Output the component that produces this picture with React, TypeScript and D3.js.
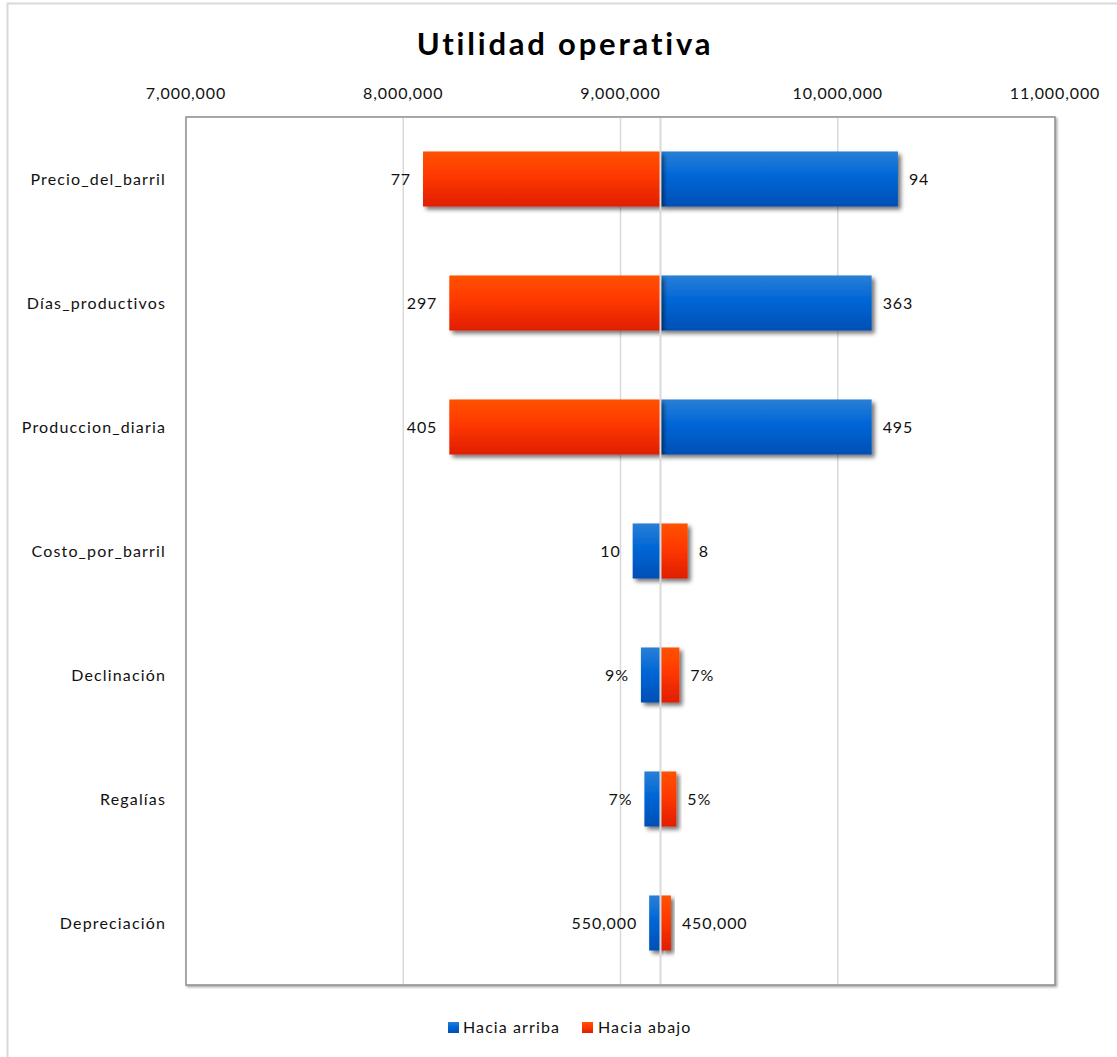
import React from "react";
import * as d3 from "d3";

const categories = [
  "Precio_del_barril",
  "Días_productivos",
  "Produccion_diaria",
  "Costo_por_barril",
  "Declinación",
  "Regalías",
  "Depreciación",
];
const baseValue = 9184000;
const upValues = [10277000, 10156000, 10156000, 9056000, 9094000, 9110000, 9132000];
const downValues = [8091000, 8212000, 8212000, 9309000, 9271000, 9257000, 9232000];
const upLabels = ["94", "363", "495", "10", "9%", "7%", "550,000"];
const downLabels = ["77", "297", "405", "8", "7%", "5%", "450,000"];
const tickValues = [7000000, 8000000, 9000000, 10000000, 11000000];
const seriesNames = ["Hacia arriba", "Hacia abajo"];

const W = 1117;
const H = 1057;
const plot = { left: 186, right: 1055, top: 117, bottom: 985 };
const FONT = "Lato, 'Open Sans', sans-serif";

export default function App() {
  const x = d3.scaleLinear().domain([7000000, 11000000]).range([plot.left, plot.right]);
  const y = d3
    .scaleBand<string>()
    .domain(categories)
    .range([plot.top, plot.bottom])
    .paddingInner(0.556)
    .paddingOuter(0.278);
  const fmt = d3.format(",");
  const bw = y.bandwidth();

  const bars: any[] = [];
  categories.forEach((c, i) => {
    const yc = y(c) as number;
    [
      { v: upValues[i], lab: upLabels[i], fill: "url(#gBlue)", key: "u" },
      { v: downValues[i], lab: downLabels[i], fill: "url(#gRed)", key: "d" },
    ].forEach((s) => {
      const x0 = Math.min(x(s.v), x(baseValue));
      const x1 = Math.max(x(s.v), x(baseValue));
      const left = s.v < baseValue;
      bars.push(
        <g key={c + s.key}>
          <rect x={x0} y={yc} width={x1 - x0} height={bw} fill={s.fill} filter="url(#shadow)" />
          <text
            x={left ? x0 - 12 : x1 + 11}
            y={yc + bw / 2}
            dy="0.35em"
            textAnchor={left ? "end" : "start"}
            fontSize={16}
            letterSpacing={0.9}
            fontFamily={FONT}
            fill="#111"
          >
            {s.lab}
          </text>
        </g>
      );
    });
  });

  return (
    <svg
      width={W}
      height={H}
      style={{ position: "absolute", left: 0, top: 0, background: "#fff" }}
    >
      <defs>
        <linearGradient id="gBlue" x1="0" y1="0" x2="0" y2="1">
          <stop offset="0" stopColor="#2a7fd6" />
          <stop offset="0.45" stopColor="#0066d6" />
          <stop offset="1" stopColor="#004fb5" />
        </linearGradient>
        <linearGradient id="gRed" x1="0" y1="0" x2="0" y2="1">
          <stop offset="0" stopColor="#ff5200" />
          <stop offset="0.45" stopColor="#ff3800" />
          <stop offset="1" stopColor="#e01e00" />
        </linearGradient>
        <filter id="shadow" x="-20%" y="-20%" width="150%" height="160%">
          <feDropShadow dx="3" dy="3" stdDeviation="2" floodColor="#000" floodOpacity="0.55" />
        </filter>
        <filter id="pshadow" x="-5%" y="-5%" width="110%" height="110%">
          <feDropShadow dx="1.5" dy="1.5" stdDeviation="1" floodColor="#000" floodOpacity="0.35" />
        </filter>
      </defs>
      <rect x={7.5} y={3.5} width={W + 10} height={H + 10} fill="#fff" stroke="#d9d9d9" strokeWidth={2} />
      <text
        x={565}
        y={55}
        textAnchor="middle"
        fontSize={31}
        fontWeight="bold"
        fontFamily={FONT}
        letterSpacing={2.8}
        fill="#000"
      >
        Utilidad  operativa
      </text>
      {tickValues.map((t) => (
        <text
          key={t}
          x={x(t)}
          y={93}
          dy="0.35em"
          textAnchor="middle"
          fontSize={16}
          letterSpacing={0.9}
          fontFamily={FONT}
          fill="#111"
        >
          {fmt(t)}
        </text>
      ))}
      <rect
        x={plot.left}
        y={plot.top}
        width={plot.right - plot.left}
        height={plot.bottom - plot.top}
        fill="#fff"
        stroke="#8c8c8c"
        strokeWidth={1.5}
        filter="url(#pshadow)"
      />
      {tickValues.slice(1, -1).map((t) => (
        <line key={t} x1={x(t)} x2={x(t)} y1={plot.top + 1} y2={plot.bottom - 1} stroke="#d9d9d9" strokeWidth={1.5} />
      ))}
      {bars}
      <line
        x1={x(baseValue)}
        x2={x(baseValue)}
        y1={plot.top + 1}
        y2={plot.bottom - 1}
        stroke="#d9d9d9"
        strokeWidth={2}
      />
      {categories.map((c) => (
        <text
          key={c}
          x={166}
          y={(y(c) as number) + bw / 2}
          dy="0.35em"
          textAnchor="end"
          fontSize={16}
          letterSpacing={1.15}
          fontFamily={FONT}
          fill="#111"
        >
          {c}
        </text>
      ))}
      <g fontFamily={FONT} fontSize={16} letterSpacing={1.1} fill="#111">
        <rect x={448} y={1022} width={11} height={11} fill="url(#gBlue)" />
        <text x={463} y={1027.5} dy="0.35em">{seriesNames[0]}</text>
        <rect x={582} y={1022} width={11} height={11} fill="url(#gRed)" />
        <text x={598} y={1027.5} dy="0.35em">{seriesNames[1]}</text>
      </g>
    </svg>
  );
}
